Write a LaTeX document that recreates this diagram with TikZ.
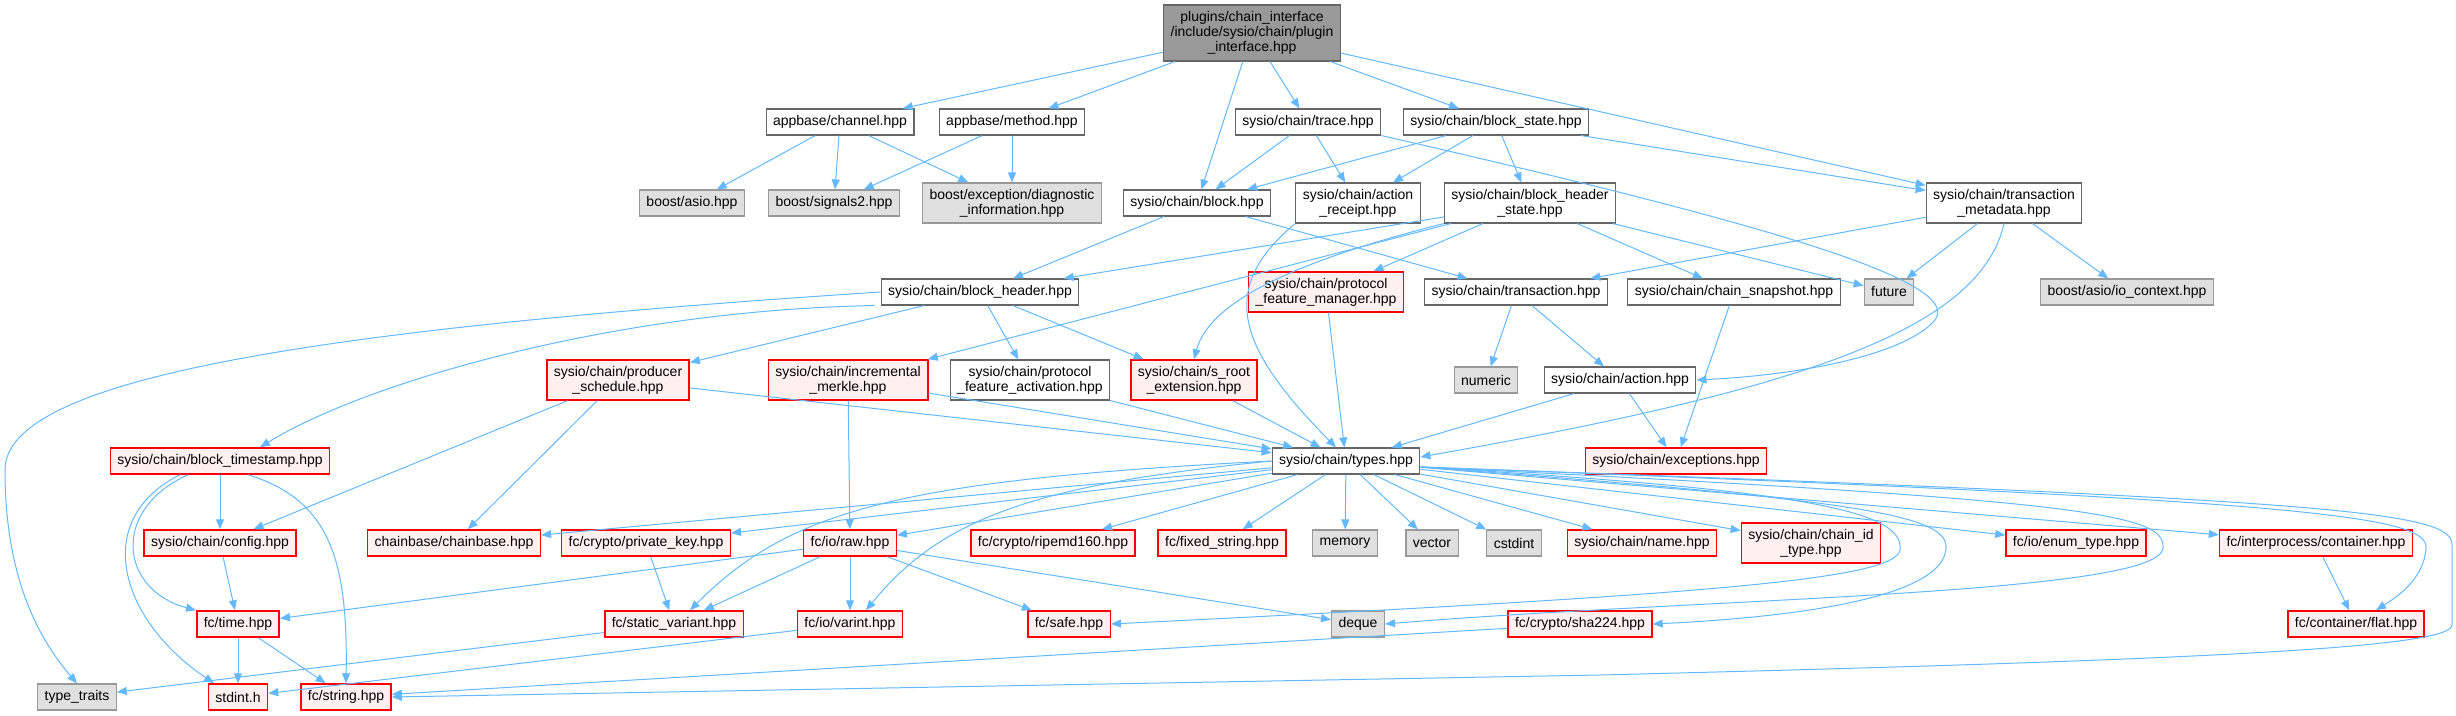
\documentclass[tikz,border=0pt]{standalone}
\usepackage{fontspec}
\setmainfont{Liberation Sans}
\usepackage{xcolor}
\definecolor{depBlue}{HTML}{63B8FF}
\definecolor{rootGray}{HTML}{999999}
\definecolor{boxLine}{HTML}{666666}
\definecolor{extFill}{HTML}{E0E0E0}
\definecolor{extLine}{HTML}{999999}
\definecolor{truncFill}{HTML}{FFF0F0}
\definecolor{truncLine}{HTML}{FF0000}
\usepackage{tikz}
\usetikzlibrary{arrows.meta}

\begin{document}
\begin{tikzpicture}[x=0.5pt,y=-0.5pt,font=\fontsize{7}{7.5}\selectfont,>={Triangle[length=5pt,width=4pt]},
  file/.style={draw=boxLine,fill=white,line width=0.55pt,inner xsep=3.5pt,inner ysep=0pt,minimum height=13pt,align=center},
  ext/.style={file,draw=extLine,fill=extFill},
  trunc/.style={file,draw=truncLine,fill=truncFill,line width=0.75pt},
  tall/.style={minimum height=20pt},
  rootf/.style={file,fill=rootGray,minimum height=28pt},
  dep/.style={->,draw=depBlue,line width=0.5pt}]
  \useasboundingbox (0,0) rectangle (2456,716);

  % top
  \node[rootf] (root) at (1252,33) {plugins/chain\_interface\\/include/sysio/chain/plugin\\\_interface.hpp};
  \node[file] (channel) at (840,122) {appbase/channel.hpp};
  \node[file] (method) at (1012,122) {appbase/method.hpp};
  \node[file] (trace) at (1308,122) {sysio/chain/trace.hpp};
  \node[file] (bstate) at (1496,122) {sysio/chain/block\_state.hpp};

  \node[ext] (asio) at (692,203) {boost/asio.hpp};
  \node[ext] (signals) at (834,203) {boost/signals2.hpp};
  \node[ext,tall] (diag) at (1012,203) {boost/exception/diagnostic\\\_information.hpp};
  \node[file] (block) at (1197,203) {sysio/chain/block.hpp};
  \node[file,tall] (areceipt) at (1358,203) {sysio/chain/action\\\_receipt.hpp};
  \node[file,tall] (bhstate) at (1530,203) {sysio/chain/block\_header\\\_state.hpp};
  \node[file,tall] (txmeta) at (2004,203) {sysio/chain/transaction\\\_metadata.hpp};

  \node[file] (bheader) at (980,292) {sysio/chain/block\_header.hpp};
  \node[trunc,tall] (pfmgr) at (1326,292) {sysio/chain/protocol\\\_feature\_manager.hpp};
  \node[file] (trx) at (1516,292) {sysio/chain/transaction.hpp};
  \node[file] (snapshot) at (1734,292) {sysio/chain/chain\_snapshot.hpp};
  \node[ext] (future) at (1889,292) {future};
  \node[ext] (ioctx) at (2127,292) {boost/asio/io\_context.hpp};

  \node[trunc,tall] (prodsched) at (618,380) {sysio/chain/producer\\\_schedule.hpp};
  \node[trunc,tall] (incmerkle) at (848,380) {sysio/chain/incremental\\\_merkle.hpp};
  \node[file,tall] (pfact) at (1030,380) {sysio/chain/protocol\\\_feature\_activation.hpp};
  \node[trunc,tall] (sroot) at (1194,380) {sysio/chain/s\_root\\\_extension.hpp};
  \node[ext] (numeric) at (1486,380) {numeric};
  \node[file] (action) at (1620,380) {sysio/chain/action.hpp};

  % middle
  \node[trunc] (btime) at (220,461) {sysio/chain/block\_timestamp.hpp};
  \node[file] (types) at (1346,461) {sysio/chain/types.hpp};
  \node[trunc] (except) at (1676,461) {sysio/chain/exceptions.hpp};

  \node[trunc] (config) at (220,543) {sysio/chain/config.hpp};
  \node[trunc] (chainbase) at (454,543) {chainbase/chainbase.hpp};
  \node[trunc] (privkey) at (646,543) {fc/crypto/private\_key.hpp};
  \node[trunc] (raw) at (850,543) {fc/io/raw.hpp};
  \node[trunc] (ripemd) at (1053,543) {fc/crypto/ripemd160.hpp};
  \node[trunc] (fixstr) at (1222,543) {fc/fixed\_string.hpp};
  \node[ext] (memory) at (1345,543) {memory};
  \node[ext] (vector) at (1432,543) {vector};
  \node[ext] (cstdint) at (1514,543) {cstdint};
  \node[trunc] (name) at (1642,543) {sysio/chain/name.hpp};
  \node[trunc,tall] (chainid) at (1811,543) {sysio/chain/chain\_id\\\_type.hpp};
  \node[trunc] (enumt) at (2076,543) {fc/io/enum\_type.hpp};
  \node[trunc] (container) at (2316,543) {fc/interprocess/container.hpp};

  % bottom
  \node[trunc] (fctime) at (238,624) {fc/time.hpp};
  \node[trunc] (svariant) at (674,624) {fc/static\_variant.hpp};
  \node[trunc] (varint) at (850,624) {fc/io/varint.hpp};
  \node[trunc] (safe) at (1069,624) {fc/safe.hpp};
  \node[ext] (deque) at (1358,624) {deque};
  \node[trunc] (sha) at (1580,624) {fc/crypto/sha224.hpp};
  \node[trunc] (flat) at (2356,624) {fc/container/flat.hpp};

  \node[ext] (ttraits) at (77,697) {type\_traits};
  \node[trunc] (stdint) at (238,697) {stdint.h};
  \node[trunc] (fcstring) at (346,697) {fc/string.hpp};

  % includes
  \draw[dep] (root) -- (channel);
  \draw[dep] (root) -- (method);
  \draw[dep] (root) -- (block);
  \draw[dep] (root) -- (trace);
  \draw[dep] (root) -- (bstate);
  \draw[dep] (root) -- (txmeta);
  \draw[dep] (channel) -- (asio);
  \draw[dep] (channel) -- (signals);
  \draw[dep] (channel) -- (diag);
  \draw[dep] (method) -- (signals);
  \draw[dep] (method) -- (diag);
  \draw[dep] (trace) -- (block);
  \draw[dep] (trace) -- (areceipt);
  \draw[dep] (trace.south east) .. controls (1750,220) and (1965,280) .. (1935,320) .. controls (1905,355) and (1800,375) .. (action.east);
  \draw[dep] (bstate) -- (block);
  \draw[dep] (bstate) -- (areceipt);
  \draw[dep] (bstate) -- (bhstate);
  \draw[dep] (bstate) -- (txmeta);
  \draw[dep] (block) -- (bheader);
  \draw[dep] (block) -- (trx);
  \draw[dep] (areceipt.south west) .. controls (1215,290) and (1240,350) .. ([xshift=-5pt]types.north);
  \draw[dep] (bhstate) -- (bheader);
  \draw[dep] (bhstate) -- (incmerkle);
  \draw[dep] (bhstate.south west) .. controls (1300,260) and (1210,300) .. (sroot.north);
  \draw[dep] (bhstate) -- (pfmgr);
  \draw[dep] (bhstate) -- (snapshot);
  \draw[dep] (bhstate) -- (future);
  \draw[dep] (txmeta) -- (trx);
  \draw[dep] (txmeta) -- (future);
  \draw[dep] (txmeta) -- (ioctx);
  \draw[dep] (txmeta.south) .. controls (1980,330) and (1800,390) .. ([yshift=2pt]types.east);
  \draw[dep] (bheader.west) .. controls (300,330) and (5,380) .. (5,470) .. controls (5,580) and (40,640) .. (ttraits.north);
  \draw[dep] ([xshift=-3pt]bheader.south west) .. controls (620,310) and (370,380) .. ([xshift=20pt]btime.north);
  \draw[dep] (bheader) -- (prodsched);
  \draw[dep] (bheader) -- (pfact);
  \draw[dep] (bheader) -- (sroot);
  \draw[dep] (pfmgr) -- (types);
  \draw[dep] (trx) -- (numeric);
  \draw[dep] (trx) -- (action);
  \draw[dep] (snapshot) -- (except);
  \draw[dep] (prodsched) -- (config);
  \draw[dep] (prodsched) -- (chainbase);
  \draw[dep] (prodsched) -- (types);
  \draw[dep] (incmerkle) -- (types);
  \draw[dep] (incmerkle) -- (raw);
  \draw[dep] (pfact) -- (types);
  \draw[dep] (sroot) -- (types);
  \draw[dep] (action) -- (types);
  \draw[dep] (action) -- (except);
  \draw[dep] (btime) -- (config);
  \draw[dep] ([xshift=-16pt]btime.south) .. controls (110,510) and (120,590) .. (fctime.north west);
  \draw[dep] ([xshift=-20pt]btime.south) .. controls (90,520) and (120,620) .. ([xshift=-12pt]stdint.north);
  \draw[dep] ([xshift=14pt]btime.south) .. controls (330,500) and (348,560) .. (fcstring.north);
  \draw[dep] (types) -- (chainbase);
  \draw[dep] (types) -- (privkey);
  \draw[dep] (types) -- (raw);
  \draw[dep] (types.west) .. controls (900,480) and (790,510) .. ([xshift=8pt]svariant.north);
  \draw[dep] (types.west) .. controls (1030,485) and (940,520) .. ([xshift=8pt]varint.north);
  \draw[dep] (types) -- (ripemd);
  \draw[dep] (types) -- (fixstr);
  \draw[dep] (types) -- (memory);
  \draw[dep] (types) -- (vector);
  \draw[dep] (types) -- (cstdint);
  \draw[dep] (types) -- (name);
  \draw[dep] (types) -- (chainid);
  \draw[dep] (types) -- (enumt);
  \draw[dep] (types) -- (container);
  \draw[dep] ([yshift=-3pt]types.east) .. controls (1800,490) and (1905,510) .. (1900,550) .. controls (1895,580) and (1700,595) .. (safe.east);
  \draw[dep] ([yshift=-3pt]types.east) .. controls (1860,500) and (1948,515) .. (1946,548) .. controls (1944,600) and (1780,618) .. (sha.east);
  \draw[dep] ([yshift=-3pt]types.east) .. controls (2100,500) and (2165,515) .. (2163,548) .. controls (2160,595) and (1700,598) .. (deque.east);
  \draw[dep] ([yshift=-3pt]types.east) .. controls (2300,500) and (2428,515) .. (2426,548) .. controls (2424,580) and (2395,598) .. ([xshift=10pt]flat.north);
  \draw[dep] ([yshift=-3pt]types.east) .. controls (2350,500) and (2452,512) .. (2452,545) -- (2452,625) .. controls (2452,648) and (2200,660) .. (1600,675) -- (fcstring.east);
  \draw[dep] (config) -- (fctime);
  \draw[dep] (privkey) -- (svariant);
  \draw[dep] (raw) -- (fctime);
  \draw[dep] (raw) -- (svariant);
  \draw[dep] (raw) -- (varint);
  \draw[dep] (raw) -- (safe);
  \draw[dep] (raw) -- (deque);
  \draw[dep] (fctime) -- (stdint);
  \draw[dep] (fctime) -- (fcstring);
  \draw[dep] (svariant) -- (ttraits);
  \draw[dep] (varint) -- (stdint);
  \draw[dep] (sha) -- (fcstring);
  \draw[dep] (container) -- (flat);
\end{tikzpicture}
\end{document}
